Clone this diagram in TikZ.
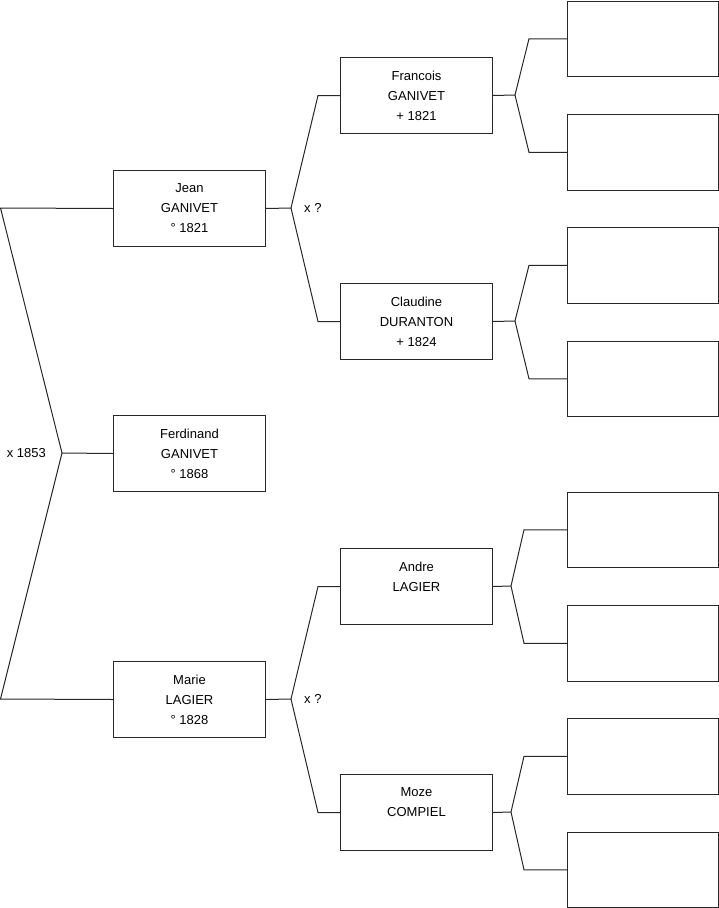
\documentclass[tikz,border=0pt]{standalone}
\usepackage{fontspec}
\setmainfont{Liberation Sans}
\usepackage{tikz}
\usetikzlibrary{positioning, calc}
\definecolor{treeline}{RGB}{40,40,40}

\begin{document}
\begin{tikzpicture}[x=1pt, y=-1pt,
  person/.style={rectangle, draw=treeline, line width=1pt, minimum width=152pt, minimum height=76pt, anchor=north west, align=center, inner sep=0pt, font=\fontsize{13}{20}\selectfont},
  empty/.style={rectangle, draw=treeline, line width=1pt, minimum width=151pt, minimum height=75.5pt, anchor=north west, inner sep=0pt},
  link/.style={draw=treeline, line width=1pt},
  wedlabel/.style={font=\fontsize{13}{15}\selectfont, inner sep=0pt}
]
\useasboundingbox (0,0) rectangle (719,908);
% generation 1
\node[person] (jean) at (113,170) {Jean\\GANIVET\\° 1821};
\node[person] (ferdinand) at (113,415) {Ferdinand\\GANIVET\\° 1868};
\node[person] (marie) at (113,661) {Marie\\LAGIER\\° 1828};
% generation 2
\node[person] (francois) at (340,57) {Francois\\GANIVET\\+ 1821};
\node[person] (claudine) at (340,283) {Claudine\\DURANTON\\+ 1824};
\node[person] (andre) at (340,548) {Andre\\LAGIER\\\mbox{}};
\node[person] (moze) at (340,774) {Moze\\COMPIEL\\\mbox{}};
% generation 3 (empty)
\node[empty] (e1) at (567,0.5) {};
\node[empty] (e2) at (567,114) {};
\node[empty] (e3) at (567,227) {};
\node[empty] (e4) at (567,340.5) {};
\node[empty] (e5) at (567,491.5) {};
\node[empty] (e6) at (567,605) {};
\node[empty] (e7) at (567,718) {};
\node[empty] (e8) at (567,831.5) {};
% forks
\coordinate (ltop) at (0.5,208);
\coordinate (lfork) at (62,453);
\coordinate (lbot) at (0.5,699);
\coordinate (jfork) at (291,208);
\coordinate (mfork) at (291,699);
\coordinate (ffork) at (515,95);
\coordinate (cfork) at (515,321);
\coordinate (afork) at (511,586);
\coordinate (zfork) at (511,812);
\draw[link] (jean.west) -- (ltop) -- (lfork) -- (lbot) -- (marie.west);
\draw[link] (lfork) -- (ferdinand.west);
\draw[link] (jean.east) -- (jfork);
\draw[link] (francois.west) -- ($(francois.west)+(-22,0)$) -- (jfork) -- ($(claudine.west)+(-22,0)$) -- (claudine.west);
\draw[link] (marie.east) -- (mfork);
\draw[link] (andre.west) -- ($(andre.west)+(-22,0)$) -- (mfork) -- ($(moze.west)+(-22,0)$) -- (moze.west);
\draw[link] (francois.east) -- (ffork);
\draw[link] (e1.west) -- ($(e1.west)+(-38,0)$) -- (ffork) -- ($(e2.west)+(-38,0)$) -- (e2.west);
\draw[link] (claudine.east) -- (cfork);
\draw[link] (e3.west) -- ($(e3.west)+(-38,0)$) -- (cfork) -- ($(e4.west)+(-38,0)$) -- (e4.west);
\draw[link] (andre.east) -- (afork);
\draw[link] (e5.west) -- ($(e5.west)+(-43,0)$) -- (afork) -- ($(e6.west)+(-43,0)$) -- (e6.west);
\draw[link] (moze.east) -- (zfork);
\draw[link] (e7.west) -- ($(e7.west)+(-43,0)$) -- (zfork) -- ($(e8.west)+(-43,0)$) -- (e8.west);
% marriage labels
\node[wedlabel, left=16pt of lfork] (wed) {x 1853};
\node[wedlabel, right=13pt of jfork] (wedj) {x ?};
\node[wedlabel, right=13pt of mfork] (wedm) {x ?};
\end{tikzpicture}
\end{document}
